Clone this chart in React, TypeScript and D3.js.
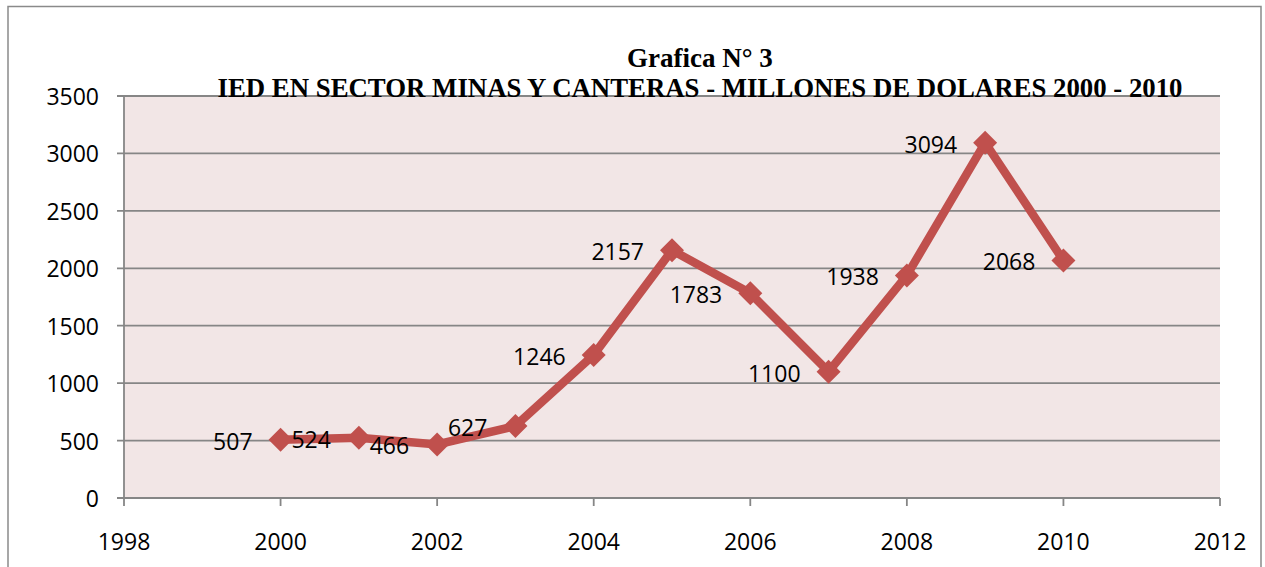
import React from "react";
import * as d3 from "d3";

const years = [2000, 2001, 2002, 2003, 2004, 2005, 2006, 2007, 2008, 2009, 2010];
const values = [507, 524, 466, 627, 1246, 2157, 1783, 1100, 1938, 3094, 2068];
const xTicks = [1998, 2000, 2002, 2004, 2006, 2008, 2010, 2012];
const yTicks = [0, 500, 1000, 1500, 2000, 2500, 3000, 3500];
const titleLine1 = "Grafica N° 3";
const titleLine2 = "IED EN SECTOR MINAS Y CANTERAS - MILLONES DE DOLARES 2000 - 2010";

const W = 1265;
const H = 567;
const plot = { left: 124, right: 1220, top: 96, bottom: 498 };
const lineColor = "#C0504D";
const gridColor = "#868686";
const tickFont = "'Open Sans', 'Liberation Sans', sans-serif";

export default function App() {
  const x = d3.scaleLinear().domain([1998, 2012]).range([plot.left, plot.right]);
  const y = d3.scaleLinear().domain([0, 3500]).range([plot.bottom, plot.top]);
  const pts = years.map((yr, i) => [x(yr), y(values[i])] as [number, number]);
  const line = d3.line()(pts) || "";
  const diamond = (cx: number, cy: number, r: number) =>
    `M${cx},${cy - r}L${cx + r},${cy}L${cx},${cy + r}L${cx - r},${cy}Z`;

  return (
    <div style={{ position: "absolute", left: 0, top: 0, width: W, height: H, background: "#fff" }}>
      <svg width={W} height={H} style={{ display: "block" }}>
        <rect x={0} y={0} width={W} height={H} fill="#fff" />
        <rect x={8} y={6.5} width={1253} height={H + 20} fill="none" stroke="#8a8a8a" strokeWidth={1.5} />
        <rect x={plot.left} y={plot.top} width={plot.right - plot.left} height={plot.bottom - plot.top} fill="#F2E6E6" />
        {yTicks.map((t) => (
          <g key={"gy" + t}>
            <line x1={117} x2={plot.right} y1={y(t)} y2={y(t)} stroke={gridColor} strokeWidth={1.8} />
            <text x={99} y={y(t)} textAnchor="end" dominantBaseline="central" fontFamily={tickFont} fontSize={23} fill="#000">
              {t}
            </text>
          </g>
        ))}
        <line x1={plot.left} x2={plot.left} y1={plot.top} y2={plot.bottom} stroke={gridColor} strokeWidth={1.8} />
        {xTicks.map((t) => (
          <g key={"gx" + t}>
            <line x1={x(t)} x2={x(t)} y1={plot.bottom} y2={plot.bottom + 8} stroke={gridColor} strokeWidth={1.8} />
            <text x={x(t)} y={550} textAnchor="middle" fontFamily={tickFont} fontSize={23} fill="#000">
              {t}
            </text>
          </g>
        ))}
        <path d={line} fill="none" stroke={lineColor} strokeWidth={8.5} strokeLinejoin="miter" />
        {pts.map(([cx, cy], i) => (
          <path key={"m" + i} d={diamond(cx, cy, 12)} fill={lineColor} />
        ))}
        {pts.map(([cx, cy], i) => (
          <text key={"l" + i} x={cx - 28} y={cy + 1} textAnchor="end" dominantBaseline="central" fontFamily={tickFont} fontSize={23} fill="#000">
            {values[i]}
          </text>
        ))}
        <text x={700} y={67} textAnchor="middle" fontFamily="'Liberation Serif', serif" fontWeight="bold" fontSize={27} fill="#000">
          {titleLine1}
        </text>
        <text x={700} y={97} textAnchor="middle" fontFamily="'Liberation Serif', serif" fontWeight="bold" fontSize={27}
          textLength={965} lengthAdjust="spacingAndGlyphs" fill="#000">
          {titleLine2}
        </text>
      </svg>
    </div>
  );
}
